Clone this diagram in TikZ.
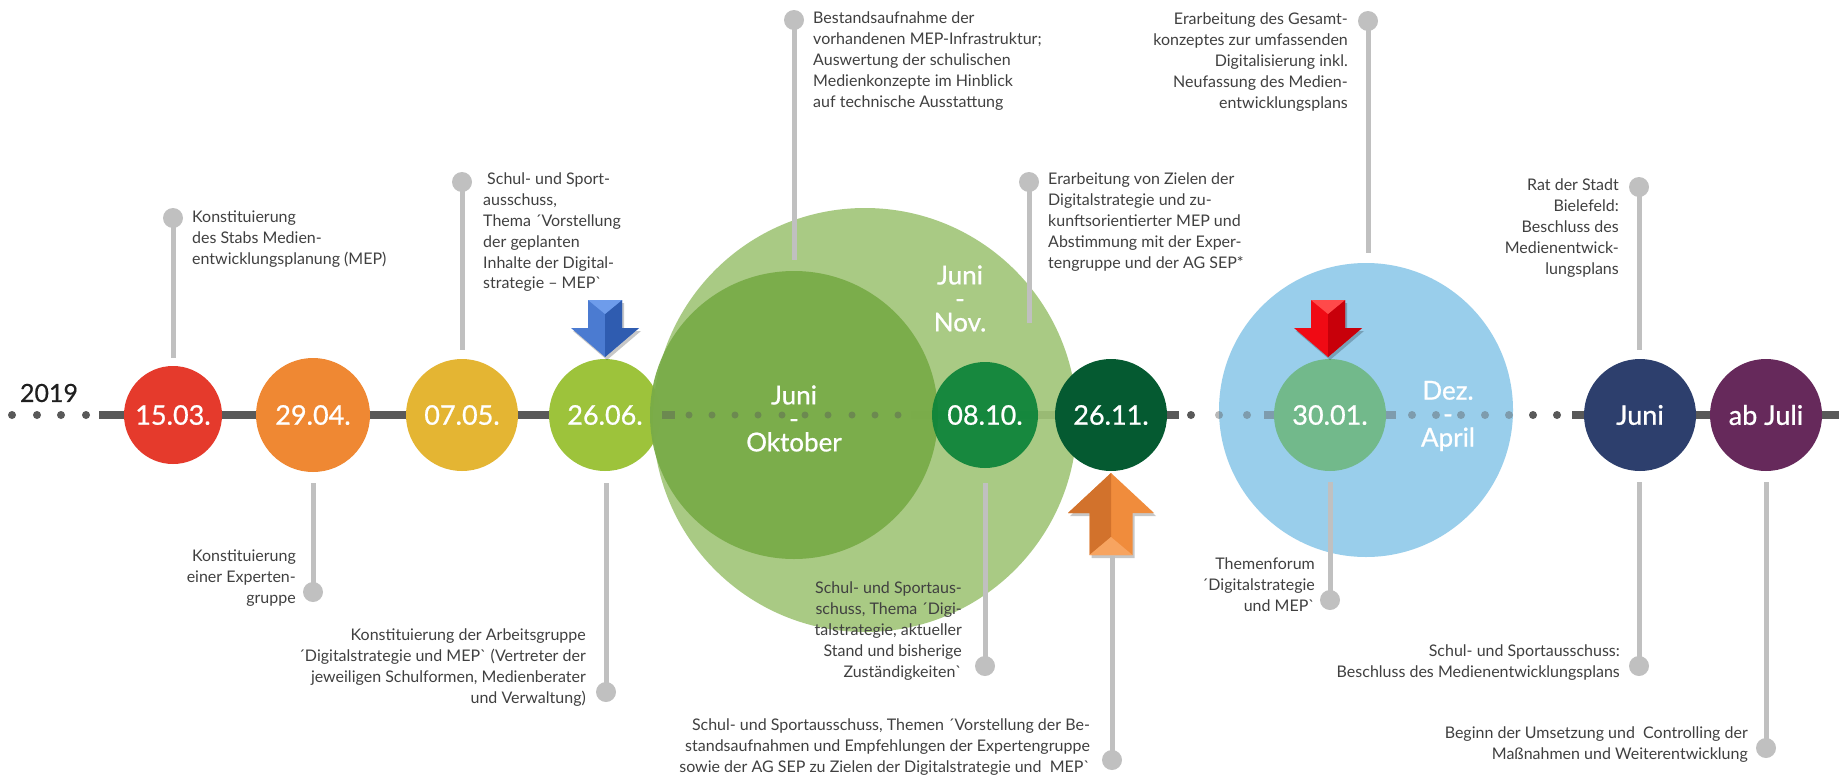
\documentclass[tikz,border=0pt]{standalone}
\usepackage{fontspec}
\setmainfont{Lato}[Ligatures=TeXOff]
\definecolor{cRed}{HTML}{E53A2C}
\definecolor{cOrange}{HTML}{EF8833}
\definecolor{cYellow}{HTML}{E4B533}
\definecolor{cLime}{HTML}{9DC33B}
\definecolor{cLightG}{HTML}{A0C577}
\definecolor{cDarkG}{HTML}{78AB47}
\definecolor{cGreen}{HTML}{0C8439}
\definecolor{cDeepG}{HTML}{055A31}
\definecolor{cSky}{HTML}{99CEEB}
\definecolor{cMint}{HTML}{72B98B}
\definecolor{cNavy}{HTML}{2D3F6D}
\definecolor{cPurple}{HTML}{66295B}
\definecolor{pingrey}{HTML}{C0C0C0}
\definecolor{bargrey}{HTML}{595959}
\definecolor{txtgrey}{HTML}{404040}
\definecolor{blueL}{HTML}{6E9CEB}
\definecolor{blueM}{HTML}{4B7BD1}
\definecolor{blueD}{HTML}{2F5CB0}
\definecolor{redL}{HTML}{FF4A4A}
\definecolor{redM}{HTML}{F00A14}
\definecolor{redD}{HTML}{C8000A}
\definecolor{orL}{HTML}{F7A460}
\definecolor{orM}{HTML}{F08C3C}
\definecolor{orD}{HTML}{D2722C}
\tikzset{
  lbl/.style={inner sep=0pt, text=txtgrey, font=\fontsize{16}{20.8}\selectfont},
  lblL/.style={lbl, align=left, anchor=north west},
  lblR/.style={lbl, align=right, anchor=north east},
  datec/.style={circle, inner sep=0pt, text=white, font=\fontsize{27}{30}\selectfont\addfontfeatures{FakeBold=0.8}},
  bigtxt/.style={inner sep=0pt, text=white, align=center, font=\fontsize{26}{23.5}\selectfont\addfontfeatures{FakeBold=0.8}},
  pindot/.style={circle, fill=pingrey, inner sep=0pt, minimum size=20pt},
  pinline/.style={draw=pingrey, line width=5pt},
  bar/.style={draw=bargrey, line width=7.3pt},
  tdot/.style={circle, fill=bargrey, inner sep=0pt, minimum size=8pt},
  ghost/.style={opacity=0.42},
  pics/downarr/.style n args={3}{code={
    \fill[black,opacity=0.22] (-15,3) -- (19,3) -- (19,31) -- (36,31) -- (2,60) -- (-32,31) -- (-15,31) -- cycle;
    \fill[#2] (-17,0) -- (17,0) -- (17,28) -- (34,28) -- (0,57) -- (-34,28) -- (-17,28) -- cycle;
    \fill[#3] (0,14) -- (17,0) -- (17,28) -- (34,28) -- (0,57) -- cycle;
    \fill[#1] (-17,0) -- (17,0) -- (0,14) -- cycle;
  }},
  pics/uparr/.style n args={3}{code={
    \fill[black,opacity=0.22] (-19.5,3) -- (23.5,3) -- (23.5,-39) -- (45,-39) -- (2,-79) -- (-41,-39) -- (-19.5,-39) -- cycle;
    \fill[#2] (-21.5,0) -- (21.5,0) -- (21.5,-42) -- (43,-42) -- (0,-82) -- (-43,-42) -- (-21.5,-42) -- cycle;
    \fill[#3] (-21.5,0) -- (0,-18) -- (0,-82) -- (-43,-42) -- (-21.5,-42) -- cycle;
    \fill[#1] (-21.5,0) -- (21.5,0) -- (0,-18) -- cycle;
  }}
}
\begin{document}
\begin{tikzpicture}[x=1pt,y=-1pt]
\useasboundingbox[fill=white] (0,0) rectangle (1839,774);

% ---------- timeline ----------
\node[font=\fontsize{25}{28}\selectfont\addfontfeatures{FakeBold=0.5}, text=black!88, inner sep=0pt] (year) at (49,393) {2019};
\foreach \x [count=\i] in {12,37,61,86} \node[tdot] (ld\i) at (\x,415) {};
\coordinate (b1s) at (99,415);   \coordinate (b1e) at (605,415);
\coordinate (b2s) at (662,415);  \coordinate (b2e) at (675,415);
\coordinate (b3s) at (911,415);  \coordinate (b3e) at (1179,415);
\coordinate (b4s) at (1264,415); \coordinate (b4e) at (1396,415);
\coordinate (b5s) at (1572,415); \coordinate (b5e) at (1839,415);
\draw[bar] (b1s) -- (b1e);
\draw[bar] (b3s) -- (b3e);
\draw[bar] (b5s) -- (b5e);
\node[tdot] (nd1) at (1191,415) {};
\node[tdot] (rd6) at (1533,415) {};
\node[tdot] (rd7) at (1557,415) {};

% ---------- date circles (first group) ----------
\node[datec, fill=cRed, minimum size=98pt] (d1) at (173,415) {15.03.};
\node[datec, fill=cOrange, minimum size=114pt] (d2) at (313,415) {29.04.};
\node[datec, fill=cYellow, minimum size=112pt] (d3) at (462,415) {07.05.};
\node[datec, fill=cLime, minimum size=112pt] (d4) at (605,415) {26.06.};

% ---------- big circles ----------
\node[circle, fill=cLightG, fill opacity=0.9, minimum size=424pt, inner sep=0pt] (bigL) at (865,420) {};
\node[circle, fill=cDarkG, fill opacity=0.92, minimum size=288pt, inner sep=0pt] (bigD) at (794,415) {};
\node[circle, fill=cSky, minimum size=294pt, inner sep=0pt] (bigB) at (1366,410) {};

% timeline parts seen through the big circles
\begin{scope}[ghost]
\draw[bar] (b2s) -- (b2e);
\draw[bar] (b4s) -- (b4e);
\foreach \x [count=\i] in {689,712,735,758,782,805,828,852,875,898} \node[tdot, minimum size=7pt] (md\i) at (\x,415) {};
\foreach \x [count=\i] in {1219,1247} \node[tdot] (nd\i x) at (\x,415) {};
\foreach \x [count=\i] in {1412,1436,1461,1485,1509} \node[tdot] (rd\i) at (\x,415) {};
\end{scope}

\node[datec, fill=cGreen, fill opacity=0.93, text opacity=1, minimum size=106pt] (d5) at (985,415) {08.10.};
\node[datec, fill=cDeepG, minimum size=112pt] (d6) at (1111,415) {26.11.};
\node[datec, fill=cMint, minimum size=112pt] (d7) at (1330,415) {30.01.};
\node[datec, fill=cNavy, minimum size=112pt] (d8) at (1640,415) {Juni};
\node[datec, fill=cPurple, minimum size=112pt] (d9) at (1766,415) {ab Juli};

\node[bigtxt] (tOkt) at (794,418.5) {Juni\\-\\Oktober};
\node[bigtxt] (tNov) at (960,298.5) {Juni\\-\\Nov.};
\node[bigtxt] (tApr) at (1448,416) {Dez.\\-\\April};

% ---------- arrows ----------
\pic at (605,300) {downarr={blueL}{blueM}{blueD}};
\pic at (1328,300) {downarr={redL}{redM}{redD}};
\pic at (1111,555) {uparr={orL}{orM}{orD}};

% ---------- upper pins ----------
\node[pindot] (p1) at (173,218) {};  \coordinate (p1e) at (173,358);
\node[pindot] (p2) at (462,182) {};  \coordinate (p2e) at (462,350);
\node[pindot] (p3) at (794,20) {};   \coordinate (p3e) at (794,260);
\node[pindot] (p4) at (1029,182) {}; \coordinate (p4e) at (1029,323);
\node[pindot] (p5) at (1368,21) {};  \coordinate (p5e) at (1368,253);
\node[pindot] (p6) at (1639,187) {}; \coordinate (p6e) at (1639,350);
\foreach \i in {1,...,6} \draw[pinline] (p\i.center) -- (p\i e);

\node[lblL] (t1) at (192,211) {Konstituierung\\des Stabs Medien-\\entwicklungsplanung (MEP)};
\node[lblL] (t2) at (483,173) {\hspace*{4pt}Schul- und Sport-\\ausschuss,\\Thema ´Vorstellung\\der geplanten\\Inhalte der Digital-\\strategie – MEP`};
\node[lblL] (t3) at (813,12) {Bestandsaufnahme der\\vorhandenen MEP-Infrastruktur;\\Auswertung der schulischen\\Medienkonzepte im Hinblick\\auf technische Ausstattung};
\node[lblL] (t4) at (1048,173) {Erarbeitung von Zielen der\\Digitalstrategie und zu-\\kunftsorientierter MEP und\\Abstimmung mit der Exper-\\tengruppe und der AG SEP*};
\node[lblR] (t5) at (1348,13) {Erarbeitung des Gesamt-\\konzeptes zur umfassenden\\Digitalisierung inkl.\\Neufassung des Medien-\\entwicklungsplans};
\node[lblR] (t6) at (1619,179) {Rat der Stadt\\Bielefeld:\\Beschluss des\\Medienentwick-\\lungsplans};

% ---------- lower pins ----------
\coordinate (q1s) at (313,483);  \node[pindot] (q1) at (313,592) {};
\coordinate (q2s) at (606,483);  \node[pindot] (q2) at (606,692) {};
\coordinate (q3s) at (985,483);  \node[pindot] (q3) at (985,666) {};
\coordinate (q4s) at (1112,556); \node[pindot] (q4) at (1112,760) {};
\coordinate (q5s) at (1330,482); \node[pindot] (q5) at (1330,600) {};
\coordinate (q6s) at (1639,482); \node[pindot] (q6) at (1639,666) {};
\coordinate (q7s) at (1766,482); \node[pindot] (q7) at (1766,748) {};
\foreach \i in {1,...,7} \draw[pinline] (q\i s) -- (q\i.center);

\node[lblR] (u1) at (296,550) {Konstituierung\\einer Experten-\\gruppe};
\node[lblR] (u2) at (586,629) {Konstituierung der Arbeitsgruppe\\´Digitalstrategie und MEP` (Vertreter der\\jeweiligen Schulformen, Medienberater\\und Verwaltung)};
\node[lblR] (u3) at (962,582) {Schul- und Sportaus-\\schuss, Thema ´Digi-\\talstrategie, aktueller\\Stand und bisherige\\Zuständigkeiten`};
\node[lblR] (u4) at (1090,719) {Schul- und Sportausschuss, Themen ´Vorstellung der Be-\\standsaufnahmen und Empfehlungen der Expertengruppe\\sowie der AG SEP zu Zielen der Digitalstrategie und\ \ MEP`};
\node[lblR] (u5) at (1315,558) {Themenforum\\´Digitalstrategie\\und MEP`};
\node[lblR] (u6) at (1620,645) {Schul- und Sportausschuss:\\Beschluss des Medienentwicklungsplans};
\node[lblR] (u7) at (1748,727) {Beginn der Umsetzung und\ \ Controlling der\\Maßnahmen und Weiterentwicklung};
\end{tikzpicture}
\end{document}
